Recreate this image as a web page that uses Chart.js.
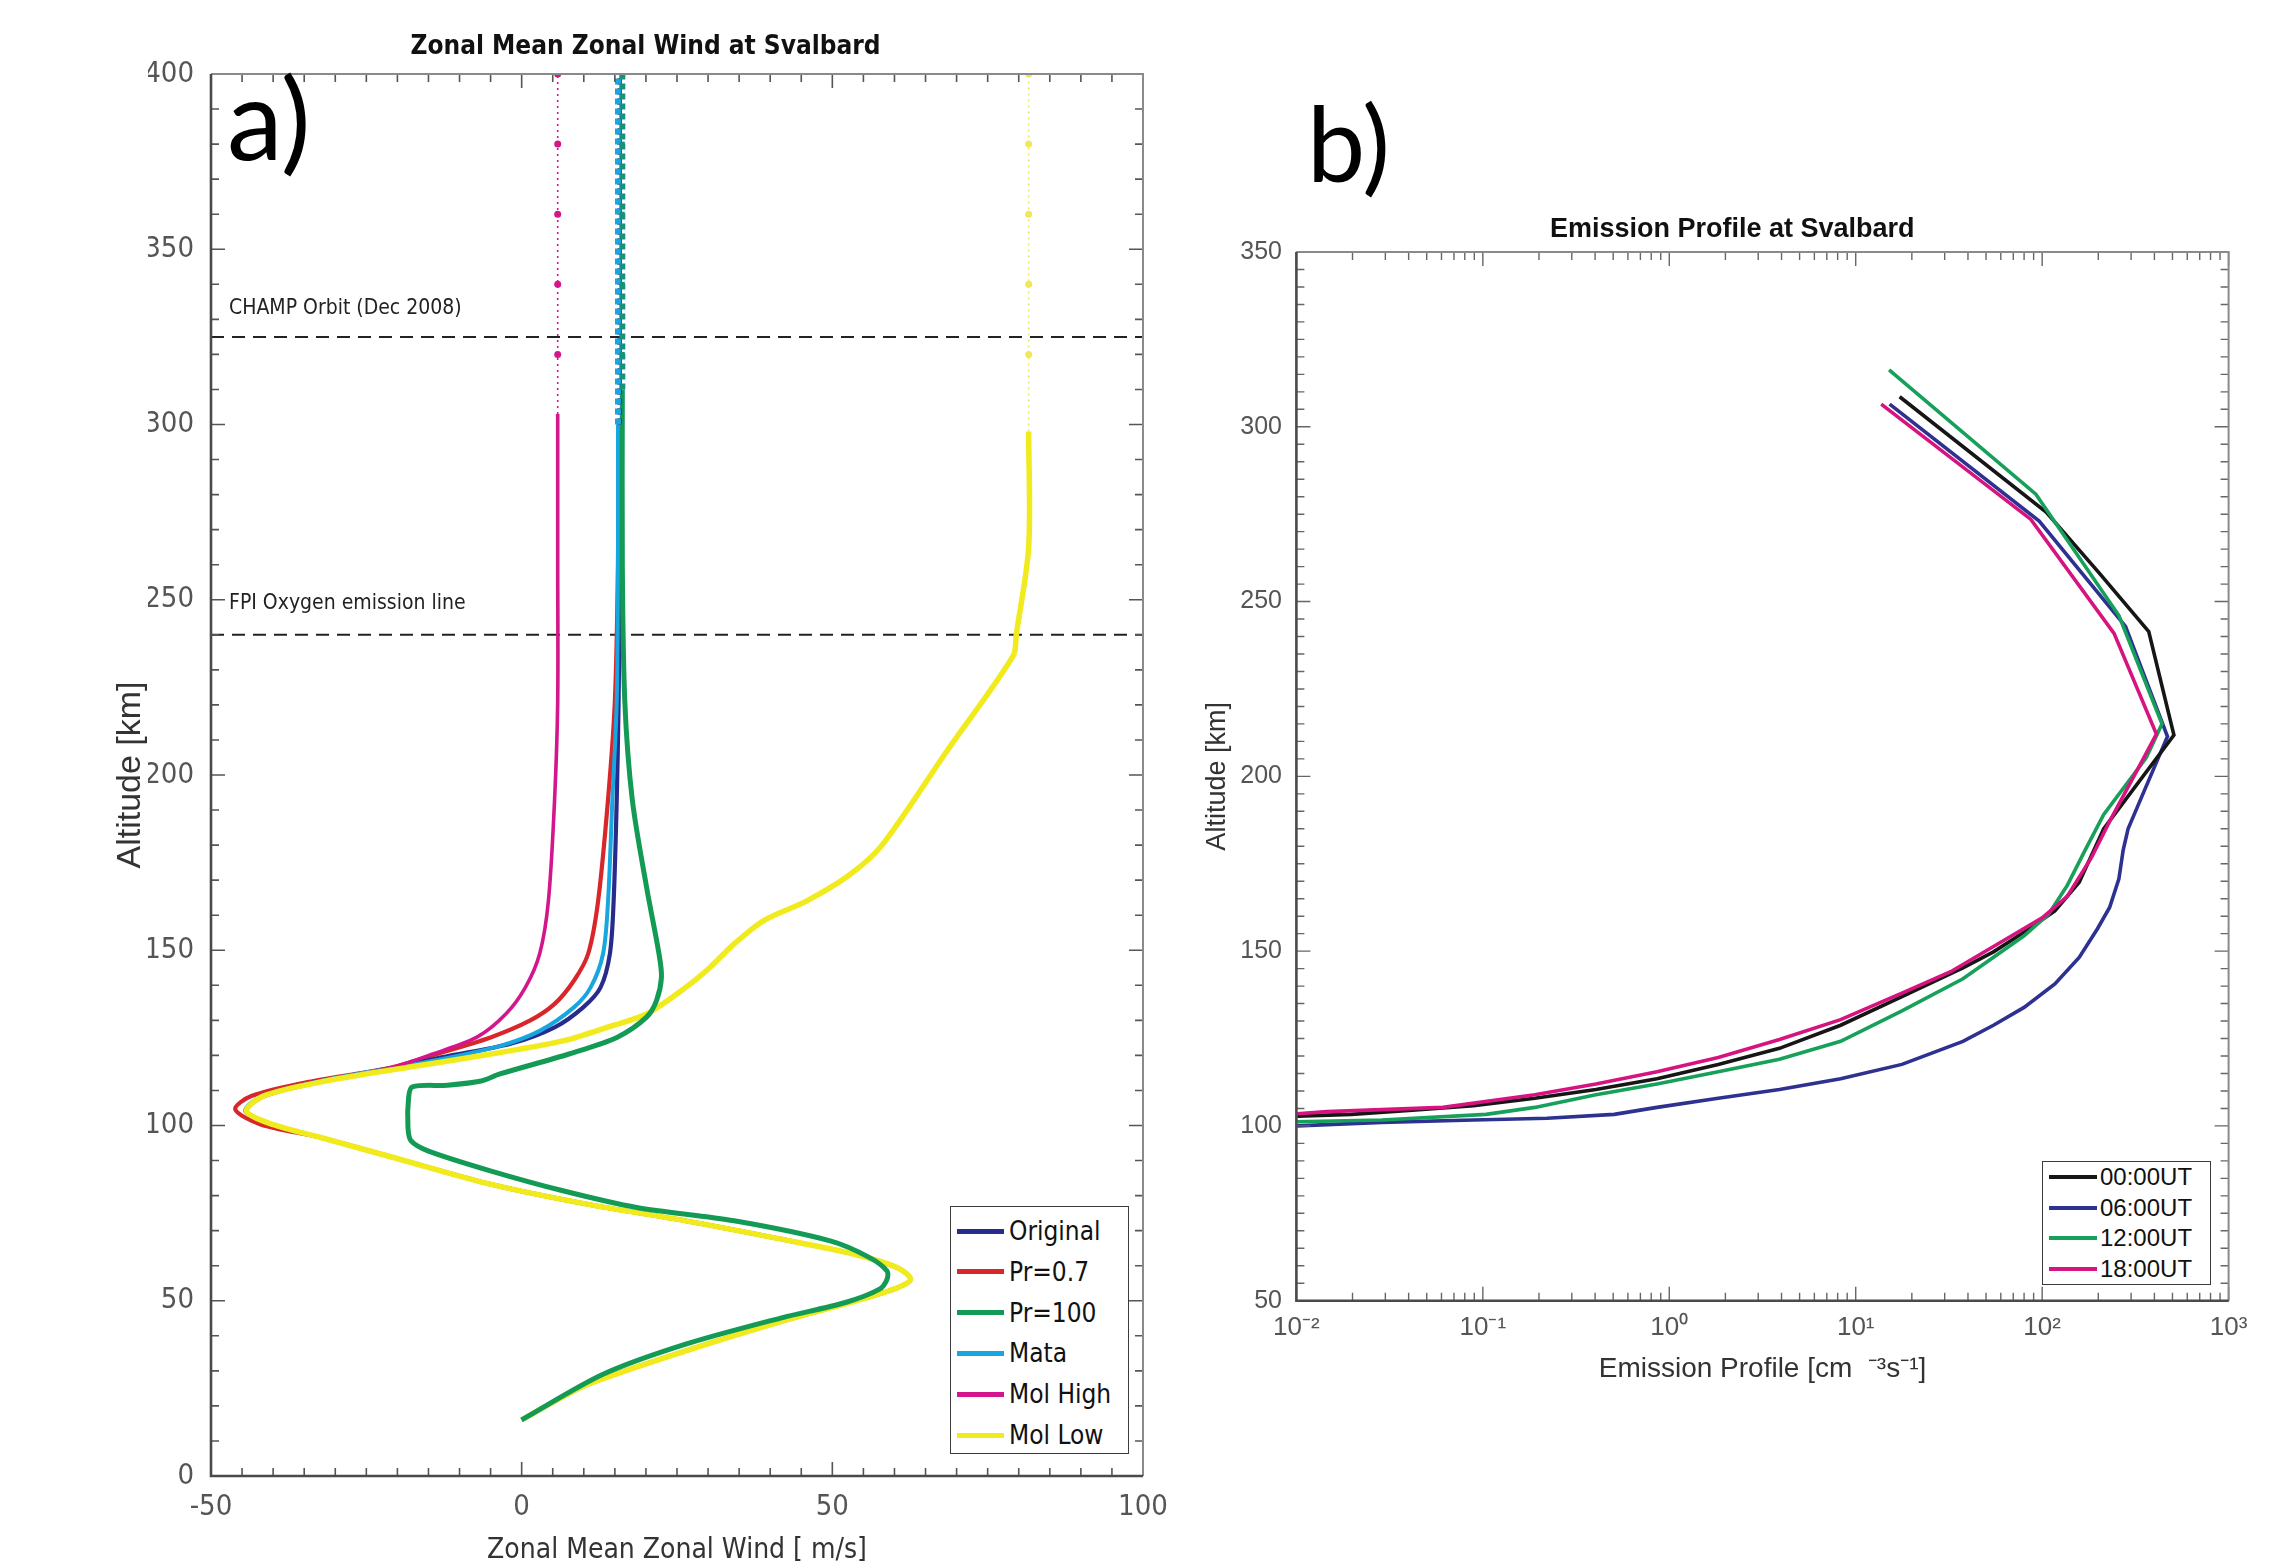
<!DOCTYPE html>
<html>
<head>
<meta charset="utf-8">
<title>Zonal Mean Zonal Wind and Emission Profile at Svalbard</title>
<script src="https://cdn.jsdelivr.net/npm/chart.js@4.4.0/dist/chart.umd.min.js"></script>
<style>
  html, body { margin:0; padding:0; background:#fff; }
  body { width:2284px; height:1563px; overflow:hidden; position:relative; }
  #cA { position:absolute; left:0; top:0; }
  #cB { position:absolute; left:1150px; top:0; }
  .panel { position:absolute; font-family: Lato, 'Open Sans', sans-serif; line-height:1; color:#000; white-space:nowrap; }
  .legend { position:absolute; box-sizing:border-box; border:1.5px solid #3c3c3c; background:#fff; }
  .legend .row { position:absolute; display:flex; align-items:center; white-space:nowrap; }
  .legend .sw { display:inline-block; }
</style>
</head>
<body>
<canvas id="cA" width="1200" height="1600"></canvas>
<canvas id="cB" width="1134" height="1563"></canvas>
<div class="panel" style="left:227px; top:61px; font-size:112px;">a)</div>
<div class="panel" style="left:1307px; top:90px; font-size:104px;">b)</div>
<div class="legend" id="legA" style="left:950px; top:1206px; width:179px; height:248px;"></div>
<div class="legend" id="legB" style="left:2042px; top:1161px; width:169px; height:124px;"></div>
<script>
// ================= Panel a) data =================
const titleA  = 'Zonal Mean Zonal Wind at Svalbard';
const xTitleA = 'Zonal Mean Zonal Wind [ m/s]';
const yTitleA = 'Altitude [km]';
const labelsA = ['Original', 'Pr=0.7', 'Pr=100', 'Mata', 'Mol High', 'Mol Low'];
const colorsA = ['#272c8c', '#d8262b', '#139b55', '#18a6df', '#d4168c', '#f1ea1d'];
const xTicksA = [-50, 0, 50, 100];
const yTicksA = [0, 50, 100, 150, 200, 250, 300, 350, 400];

// lower atmosphere shared by most runs (altitude km, wind m/s)
const altLower  = [16, 21, 26.2, 35.7, 44.2, 49.9, 53.7, 56.1, 59.4, 63.2, 67.5, 72.8, 77.5, 83.2, 90.8, 96.5];
const windLower = [0, 5, 10.7, 26.4, 42, 53.7, 60.5, 62.6, 60.5, 53.7, 42, 26.4, 10.7, -4.9, -20.5, -32.2];

const altOriginalUp  = [100.3, 104.1, 108.4, 112.7, 116.5, 119.5, 123.3, 128, 133.7, 139.4, 149, 164, 193, 221, 260, 300];
const windOriginalUp = [-40.1, -44.3, -41.6, -32.2, -20.5, -12.7, -1.8, 5.3, 9.9, 12.7, 14.2, 14.8, 15.3, 15.6, 15.8, 15.8];

const altPr07Up  = [100.3, 104.6, 108.4, 112.7, 116.5, 120.9, 125.2, 129.9, 134.7, 141.3, 149, 164, 193, 221, 260, 300];
const windPr07Up = [-42, -46.1, -43.5, -33.5, -21, -12.7, -4.9, 1.3, 5.3, 8.4, 10.7, 12.3, 13.9, 15, 15.5, 15.6];

const altMataUp  = [100.3, 104.1, 108.4, 112.7, 116.5, 119, 122.8, 127, 133.7, 139.4, 149, 164, 193, 221, 260, 300];
const windMataUp = [-40.3, -44.5, -41.8, -32.4, -20.7, -12.7, -3.3, 2.9, 8.4, 11.1, 13.1, 13.9, 14.6, 15.3, 15.5, 15.5];

const altMolHighUp  = [100.3, 104.1, 108.4, 112.7, 116.5, 120.4, 125.2, 131.8, 139.4, 149, 164, 193, 221, 260, 303];
const windMolHighUp = [-40.1, -44.3, -41.3, -31.5, -21, -14.3, -7.2, -2.55, 0.6, 2.9, 4.3, 5.3, 5.8, 5.8, 5.8];

const altMolLowUp  = [100.3, 104.1, 108.4, 112.7, 116.6, 120.4, 124.2, 128.5, 131.8, 139.4, 145.1, 151.8, 158.4, 164.1, 171.7, 180, 207, 234, 240, 265, 298];
const windMolLowUp = [-40.1, -44.3, -41.6, -31.5, -18.2, -4.9, 6.8, 14.6, 20.1, 26.4, 30.3, 34.2, 38.9, 45.9, 52.9, 58, 68.5, 79.1, 79.6, 81.6, 81.6];

const altPr100  = [16, 29, 37.6, 45.2, 49.5, 53.3, 56.1, 58.5, 62.3, 67, 72.8, 76.6, 81.3, 87, 92.7, 95.6, 99.4, 107.9, 111, 111.5, 112.7, 114.7, 120.4, 125.2, 130.9, 135.6, 142.3, 149, 168, 193, 221, 260, 310];
const windPr100 = [0, 13.1, 26.4, 42, 52.1, 57.6, 58.8, 58.8, 56, 49.8, 34.2, 18.5, 6.8, -4.9, -15, -17.8, -18.3, -18.2, -17.6, -12, -6.5, -3.5, 7.6, 15.4, 20.1, 21.7, 22.5, 22.1, 20.1, 17.8, 16.6, 16.2, 16.2];

// upper continuation markers (dotted part of each profile)
const extMarkAlt = [320, 340, 360, 380, 400];

// reference altitude lines
const refAlt    = [325, 240];
const refLabels = ['CHAMP Orbit (Dec 2008)', 'FPI Oxygen emission line'];
const refLabelAlt = [333, 249];
const refLabelX   = -47.1;

// ================= Panel b) data =================
const titleB  = 'Emission Profile at Svalbard';
const xTitleB = 'Emission Profile [cm  \u207B\u00B3s\u207B\u00B9]';
const yTitleB = 'Altitude [km]';
const labelsB = ['00:00UT', '06:00UT', '12:00UT', '18:00UT'];
const colorsB = ['#161616', '#2d3190', '#17a05a', '#d6137f'];
const xTicksB = [0.01, 0.1, 1, 10, 100, 1000];
const xTickLabelsB = ['10\u207B\u00B2', '10\u207B\u00B9', '10\u2070', '10\u00B9', '10\u00B2', '10\u00B3'];
const yTicksB = [50, 100, 150, 200, 250, 300, 350];

const alt00 = [102.8, 103.3, 104.5, 105.8, 107.9, 110.4, 113.5, 117.6, 122.2, 128.8, 137, 145.2, 149.8, 155.4, 161.5, 169.7, 185, 211.8, 241.4, 258.2, 275.6, 308.6];
const em00  = [0.0101, 0.0197, 0.0419, 0.0891, 0.19, 0.404, 0.859, 1.83, 3.9, 8.3, 17.7, 37.6, 54.8, 80, 117, 158, 214, 509, 373, 202, 105, 17.2];

const alt06 = [100, 101, 101.7, 102.2, 103.3, 105.3, 107.9, 110.4, 113.5, 117.6, 124.2, 128.8, 133.9, 140.6, 148.2, 156.4, 162.5, 170.7, 178.9, 185, 193.2, 211.4, 242.9, 273, 306.5];
const em06  = [0.0101, 0.0287, 0.0891, 0.221, 0.507, 0.859, 1.83, 3.9, 8.3, 17.7, 37.6, 54.8, 80, 117, 158, 198, 230, 258, 272, 289, 336, 470, 280, 96.4, 15.2];

const alt12 = [101.2, 101.7, 103.3, 105.3, 108.9, 112, 115.5, 119.1, 124.2, 132.9, 142.1, 154.4, 160.5, 168.7, 178.9, 189.1, 205.4, 215, 246, 280.7, 316.3];
const em12  = [0.0101, 0.0287, 0.104, 0.19, 0.404, 0.859, 1.83, 3.9, 8.3, 17.7, 37.6, 80, 108, 136, 170, 214, 362, 439, 258, 92.5, 15.1];

const alt18 = [103.5, 104.1, 105.3, 108.9, 112, 115.5, 119.6, 124.7, 130.4, 138, 144.1, 154.4, 159.5, 165.6, 176.8, 187.1, 203.4, 212.1, 240.9, 273.5, 306.5];
const em18  = [0.0101, 0.0146, 0.0611, 0.19, 0.404, 0.859, 1.83, 3.9, 8.3, 17.7, 32.3, 68.7, 100, 136, 184, 230, 336, 410, 243, 87, 13.7];

// ================= helpers =================
const NARROW = "'Liberation Sans Narrow', 'DejaVu Sans Condensed', 'Liberation Sans', Arial, sans-serif";
const SANS = "'Liberation Sans', Arial, Helvetica, sans-serif";

function pts(alt, val) { return alt.map((a, i) => ({ x: val[i], y: a })); }
function last(arr) { return arr[arr.length - 1]; }
function extPts(alt, val) {
  const v = last(val);
  return [{ x: v, y: last(alt) }].concat(extMarkAlt.map(a => ({ x: v, y: a })));
}

const origAlt = altLower.concat(altOriginalUp),  origWind = windLower.concat(windOriginalUp);
const pr07Alt = altLower.concat(altPr07Up),      pr07Wind = windLower.concat(windPr07Up);
const mataAlt = altLower.concat(altMataUp),      mataWind = windLower.concat(windMataUp);
const mhAlt   = altLower.concat(altMolHighUp),   mhWind   = windLower.concat(windMolHighUp);
const mlAlt   = altLower.concat(altMolLowUp),    mlWind   = windLower.concat(windMolLowUp);

function makeFrame(o) {
  return {
    id: 'frame',
    afterDatasetsDraw(chart) {
      const { ctx, chartArea: a } = chart;
      const xs = chart.scales.x, ys = chart.scales.y;
      ctx.save();
      ctx.strokeStyle = o.tickColor;
      ctx.lineWidth = o.tickWidth;
      ctx.beginPath();
      o.xMinor.forEach(v => {
        const p = xs.getPixelForValue(v);
        const L = o.isMajorX(v) ? o.major : o.minor;
        ctx.moveTo(p, a.bottom); ctx.lineTo(p, a.bottom - L);
        ctx.moveTo(p, a.top);    ctx.lineTo(p, a.top + L);
      });
      o.yMinor.forEach(v => {
        const p = ys.getPixelForValue(v);
        const L = o.isMajorY(v) ? o.major : o.minor;
        ctx.moveTo(a.left, p);  ctx.lineTo(a.left + L, p);
        ctx.moveTo(a.right, p); ctx.lineTo(a.right - L, p);
      });
      ctx.stroke();
      ctx.lineWidth = 2; ctx.strokeStyle = '#8a8a8a';
      ctx.beginPath();
      ctx.moveTo(a.left, a.top); ctx.lineTo(a.right, a.top); ctx.lineTo(a.right, a.bottom);
      ctx.stroke();
      ctx.lineWidth = 2.6; ctx.strokeStyle = '#4a4a4a';
      ctx.beginPath();
      ctx.moveTo(a.left, a.top); ctx.lineTo(a.left, a.bottom); ctx.lineTo(a.right, a.bottom);
      ctx.stroke();
      if (o.after) o.after(chart);
      ctx.restore();
    }
  };
}

// ================= Chart a) =================
const xMinorA = []; for (let v = -50; v <= 100; v += 5) xMinorA.push(v);
const yMinorA = []; for (let v = 0; v <= 400; v += 10) yMinorA.push(v);

const lineA = (label, data, color, width, order) => ({
  label, data, borderColor: color, backgroundColor: color, borderWidth: width,
  showLine: true, pointRadius: 0, tension: 0.3, order
});
const extA = (data, color, width, dash, pointStyle, radius, order) => ({
  label: '', data, borderColor: color, backgroundColor: color, borderWidth: width, borderDash: dash,
  showLine: true, tension: 0, order,
  pointRadius: data.map((d, i) => i === 0 ? 0 : radius), pointStyle,
  pointBackgroundColor: color, pointBorderColor: color, pointBorderWidth: 0
});

const datasetsA = [
  lineA(labelsA[2], pts(altPr100, windPr100), colorsA[2], 5, 1),
  lineA(labelsA[5], pts(mlAlt, mlWind), colorsA[5], 5.5, 2),
  lineA(labelsA[4], pts(mhAlt, mhWind), colorsA[4], 3.6, 3),
  lineA(labelsA[3], pts(mataAlt, mataWind), colorsA[3], 4, 4),
  lineA(labelsA[0], pts(origAlt, origWind), colorsA[0], 4.2, 5),
  lineA(labelsA[1], pts(pr07Alt, pr07Wind), colorsA[1], 4.2, 6),
  extA(extPts(origAlt, origWind), colorsA[0], 4, [6, 4], 'rect', 0, 0),
  extA(extPts(pr07Alt, pr07Wind), colorsA[1], 3, [6, 4], 'rect', 0, 0),
  extA(extPts(mataAlt, mataWind), colorsA[3], 6, [6, 4], 'rect', 0, -1),
  extA(extPts(altPr100, windPr100), '#17917a', 6, [6, 4], 'rect', 3.5, -2),
  extA(extPts(mhAlt, mhWind), colorsA[4], 1.6, [2, 4], 'circle', 3.5, -3),
  extA(extPts(mlAlt, mlWind), '#eee85a', 1.6, [2, 4], 'circle', 3.5, -3)
];
refAlt.forEach(h => datasetsA.push({
  label: '', data: [{ x: xTicksA[0], y: h }, { x: last(xTicksA), y: h }],
  borderColor: '#222', borderWidth: 2, borderDash: [13, 8], showLine: true, pointRadius: 0, order: 20
}));

new Chart(document.getElementById('cA'), {
  type: 'scatter',
  data: { datasets: datasetsA },
  options: {
    responsive: false, animation: false, events: [],
    layout: { padding: { left: 148, right: 57, top: 0, bottom: 0 } },
    plugins: {
      legend: { display: false }, tooltip: { enabled: false },
      title: { display: true, text: titleA, color: '#111',
               font: { family: NARROW, size: 26, weight: 'bold' }, padding: { top: 31.4, bottom: 11.4 } }
    },
    scales: {
      x: {
        type: 'linear', min: xTicksA[0], max: last(xTicksA),
        afterBuildTicks: s => { s.ticks = xTicksA.map(v => ({ value: v })); },
        ticks: { font: { family: NARROW, size: 29 }, color: '#555', padding: 14, maxRotation: 0, autoSkip: false },
        grid: { display: false, drawTicks: false }, border: { display: false },
        title: { display: true, text: xTitleA, color: '#333', font: { family: NARROW, size: 28 }, padding: { top: 0, bottom: 32.2 } },
        afterFit: s => { s.height = 124; s.paddingLeft = 0; s.paddingRight = 0; }
      },
      y: {
        type: 'linear', min: yTicksA[0], max: last(yTicksA),
        afterBuildTicks: s => { s.ticks = yTicksA.map(v => ({ value: v })); },
        ticks: { font: { family: NARROW, size: 29 }, color: '#555', padding: 17, autoSkip: false },
        grid: { display: false, drawTicks: false }, border: { display: false },
        title: { display: true, text: yTitleA, color: '#333', font: { family: SANS, size: 34 }, padding: { top: -37.4, bottom: 0 } },
        afterFit: s => { s.width = 63; s.paddingTop = 0; s.paddingBottom = 0; }
      }
    }
  },
  plugins: [makeFrame({
    xMinor: xMinorA, yMinor: yMinorA,
    isMajorX: v => v % 50 === 0, isMajorY: v => v % 50 === 0,
    major: 14, minor: 8, tickColor: '#555', tickWidth: 1.6,
    after(chart) {
      const { ctx } = chart;
      const xs = chart.scales.x, ys = chart.scales.y;
      ctx.fillStyle = '#222';
      ctx.font = "21px " + NARROW;
      ctx.textAlign = 'left'; ctx.textBaseline = 'middle';
      refLabels.forEach((t, i) => ctx.fillText(t, xs.getPixelForValue(refLabelX), ys.getPixelForValue(refLabelAlt[i])));
    }
  })]
});

// ================= Chart b) =================
const xMinorB = [];
for (let e = -2; e <= 2; e++) for (let m = 1; m <= 9; m++) xMinorB.push(m * Math.pow(10, e));
xMinorB.push(1000);
const yMinorB = []; for (let v = 50; v <= 350; v += 5) yMinorB.push(v);

const lineB = (label, alt, em, color, order) => ({
  label, data: pts(alt, em), borderColor: color, backgroundColor: color, borderWidth: 3.6,
  showLine: true, pointRadius: 0, tension: 0, order
});

new Chart(document.getElementById('cB'), {
  type: 'scatter',
  data: { datasets: [
    lineB(labelsB[0], alt00, em00, colorsB[0], 2),
    lineB(labelsB[1], alt06, em06, colorsB[1], 3),
    lineB(labelsB[2], alt12, em12, colorsB[2], 1),
    lineB(labelsB[3], alt18, em18, colorsB[3], 0)
  ] },
  options: {
    responsive: false, animation: false, events: [],
    layout: { padding: { left: 86, right: 55.4, top: 0, bottom: 0 } },
    plugins: {
      legend: { display: false }, tooltip: { enabled: false },
      title: { display: true, text: titleB, color: '#111',
               font: { family: SANS, size: 27, weight: 'bold' }, padding: { top: 213.8, bottom: 5.8 } }
    },
    scales: {
      x: {
        type: 'logarithmic', min: xTicksB[0], max: last(xTicksB),
        afterBuildTicks: s => { s.ticks = xTicksB.map(v => ({ value: v })); },
        ticks: { font: { family: SANS, size: 26 }, color: '#555', padding: 12, maxRotation: 0, autoSkip: false,
                 callback: (v, i) => xTickLabelsB[i] },
        grid: { display: false, drawTicks: false }, border: { display: false },
        title: { display: true, text: xTitleB, color: '#333', font: { family: SANS, size: 28 }, padding: { top: 0, bottom: 177.2 } },
        afterFit: s => { s.height = 262.3; s.paddingLeft = 0; s.paddingRight = 0; }
      },
      y: {
        type: 'linear', min: yTicksB[0], max: last(yTicksB),
        afterBuildTicks: s => { s.ticks = yTicksB.map(v => ({ value: v })); },
        ticks: { font: { family: SANS, size: 25 }, color: '#555', padding: 14.4, autoSkip: false },
        grid: { display: false, drawTicks: false }, border: { display: false },
        title: { display: true, text: yTitleB, color: '#333', font: { family: SANS, size: 27 }, padding: { top: -34.2, bottom: 0 } },
        afterFit: s => { s.width = 60.4; s.paddingTop = 0; s.paddingBottom = 0; }
      }
    }
  },
  plugins: [makeFrame({
    xMinor: xMinorB, yMinor: yMinorB,
    isMajorX: v => Math.abs(Math.log10(v) - Math.round(Math.log10(v))) < 1e-9, isMajorY: v => v % 50 === 0,
    major: 14, minor: 8, tickColor: '#666', tickWidth: 1.4
  })]
});

// ================= legends =================
function buildLegend(el, labels, colors, o) {
  labels.forEach((lab, i) => {
    const row = document.createElement('div');
    row.className = 'row';
    row.style.top = (o.first + i * o.step - o.h / 2) + 'px';
    row.style.height = o.h + 'px';
    row.style.left = o.swLeft + 'px';
    const sw = document.createElement('span');
    sw.className = 'sw';
    sw.style.width = o.swW + 'px'; sw.style.height = o.swH + 'px'; sw.style.background = colors[i];
    const tx = document.createElement('span');
    tx.textContent = lab;
    tx.style.font = o.font; tx.style.color = '#111'; tx.style.marginLeft = o.gap + 'px';
    row.appendChild(sw); row.appendChild(tx);
    el.appendChild(row);
  });
}
buildLegend(document.getElementById('legA'), labelsA, colorsA,
  { first: 24, step: 40.8, h: 38, swLeft: 6, swW: 47, swH: 5, gap: 5, font: "26px " + NARROW });
buildLegend(document.getElementById('legB'), labelsB, colorsB,
  { first: 15, step: 30.6, h: 30, swLeft: 6, swW: 48, swH: 4, gap: 3, font: "24px " + SANS });
</script>
</body>
</html>
